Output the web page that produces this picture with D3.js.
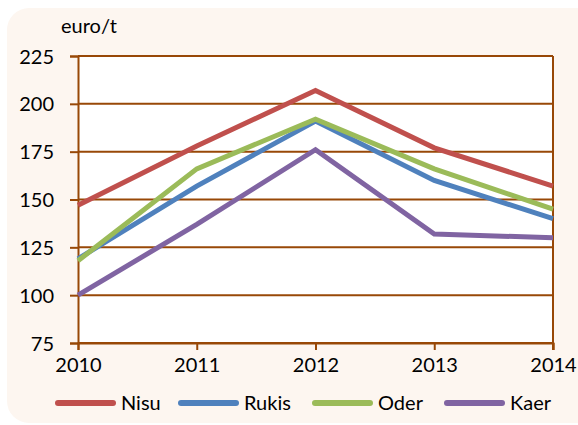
<!DOCTYPE html>
<meta charset="utf-8">
<style>
body { margin: 0; background: #fff; }
text { font-family: Lato, "Open Sans", sans-serif; fill: #000; }
.series { fill: none; stroke-width: 5px; stroke-linejoin: miter; }
</style>
<body>
<div id="plotHere"></div>
<script src="https://cdn.jsdelivr.net/npm/d3@7"></script>
<script>
// data
const years = [2010, 2011, 2012, 2013, 2014];
const yTicks = [75, 100, 125, 150, 175, 200, 225];
const names = ["Nisu", "Rukis", "Oder", "Kaer"];
const nisu  = [147, 178, 207, 177, 157];
const rukis = [119, 157, 191, 160, 140];
const oder  = [118, 166, 192, 166, 145];
const kaer  = [100, 137, 176, 132, 130];
const colors = ["#c0504d", "#4f81bd", "#9bbb59", "#8064a2"];
const unit = "euro/t";

const W = 578, H = 425;
const margin = {top: 56, right: 25, bottom: 82, left: 78};
const width = W - margin.left - margin.right,
      height = H - margin.top - margin.bottom;
const grid = "#984807";
const fs = "20px";

const svg = d3.select("#plotHere").append("svg")
    .attr("width", W).attr("height", H);

// panel background
svg.append("rect")
    .attr("x", 7).attr("y", 8).attr("width", W - 7 + 20).attr("height", H - 10)
    .attr("rx", 22).attr("fill", "#fdf6f0");

const g = svg.append("g")
    .attr("transform", "translate(" + margin.left + "," + margin.top + ")");

const x = d3.scaleLinear().domain([2010, 2014]).range([0, width]);
const y = d3.scaleLinear().domain([75, 225]).range([height, 0]);

g.append("rect").attr("width", width).attr("height", height).attr("fill", "#fff");

// gridlines
g.selectAll(".grid").data(yTicks).join("line")
    .attr("x1", 0).attr("x2", width)
    .attr("y1", d => y(d)).attr("y2", d => y(d))
    .attr("stroke", grid).attr("stroke-width", 2);

// axes
const yAxis = g.append("g")
    .call(d3.axisLeft(y).tickValues(yTicks).tickSize(8).tickPadding(16));
const xAxis = g.append("g")
    .attr("transform", "translate(0," + height + ")")
    .call(d3.axisBottom(x).tickValues(years).tickFormat(d3.format("d")).tickSize(7).tickPadding(8));
[yAxis, xAxis].forEach(a => {
  a.select(".domain").attr("stroke", grid).attr("stroke-width", 2);
  a.selectAll(".tick line").attr("stroke", grid).attr("stroke-width", 2);
  a.selectAll("text").style("font-size", fs);
});
yAxis.selectAll("text").attr("dy", "0.35em");
// right border
g.append("line").attr("x1", width).attr("x2", width)
    .attr("y1", 0).attr("y2", height + 7)
    .attr("stroke", grid).attr("stroke-width", 2);

g.append("text").attr("x", -17).attr("y", -23)
    .style("font-size", fs).text(unit);

// lines
const series = [nisu, rukis, oder, kaer];
const line = d3.line().x((d, i) => x(years[i])).y(d => y(d));
g.selectAll(".series").data(series).join("path")
    .attr("class", "series")
    .attr("stroke", (d, i) => colors[i])
    .attr("d", line);

// legend
const legX = [58, 181, 315, 447];
const leg = svg.append("g").attr("transform", "translate(0,403)");
names.forEach((n, i) => {
  leg.append("line").attr("x1", legX[i]).attr("x2", legX[i] + 55)
      .attr("stroke", colors[i]).attr("stroke-width", 6).attr("stroke-linecap", "round");
  leg.append("text").attr("x", legX[i] + 63).attr("dy", "0.35em")
      .style("font-size", fs).text(n);
});
</script>
</body>
